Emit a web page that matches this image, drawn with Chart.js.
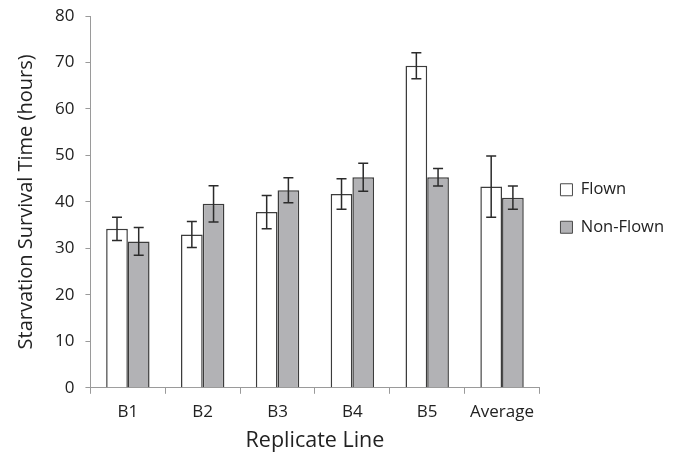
<!DOCTYPE html>
<html>
<head>
<meta charset="utf-8">
<script src="https://cdn.jsdelivr.net/npm/chart.js@4"></script>
<style>
  html, body { margin: 0; padding: 0; background: #fff; }
  #wrap { width: 678px; height: 454px; }
</style>
</head>
<body>
<div id="wrap"><canvas id="chart" width="678" height="454"></canvas></div>
<script>
/* ---- data ---- */
const lines = ["B1", "B2", "B3", "B4", "B5", "Average"];
const flown = [34.2, 33.0, 37.8, 41.7, 69.3, 43.3];
const flownErr = [2.5, 2.8, 3.6, 3.3, 2.8, 6.6];
const nonFlown = [31.5, 39.6, 42.5, 45.3, 45.3, 40.9];
const nonFlownErr = [3.0, 3.9, 2.7, 3.0, 1.9, 2.5];
const yTicks = [0, 10, 20, 30, 40, 50, 60, 70, 80];

const FONT = "'Open Sans', 'Noto Sans', sans-serif";
const AXIS_GREY = "#9a9a9a";
const TEXT = "#222";

/* error bars drawn on top of each bar, using the y scale */
const errorBars = {
    id: "errorBars",
    afterDatasetsDraw(chart) {
        const ctx = chart.ctx;
        const y = chart.scales.y;
        chart.data.datasets.forEach((ds, i) => {
            const meta = chart.getDatasetMeta(i);
            meta.data.forEach((bar, j) => {
                const v = ds.data[j], e = ds.errors[j];
                const top = y.getPixelForValue(v + e);
                const bot = y.getPixelForValue(v - e);
                const cap = 5;
                ctx.save();
                ctx.strokeStyle = "#2b2b2b";
                ctx.lineWidth = 1.5;
                ctx.beginPath();
                ctx.moveTo(bar.x, top); ctx.lineTo(bar.x, bot);
                ctx.moveTo(bar.x - cap, top); ctx.lineTo(bar.x + cap, top);
                ctx.moveTo(bar.x - cap, bot); ctx.lineTo(bar.x + cap, bot);
                ctx.stroke();
                ctx.restore();
            });
        });
    }
};

new Chart(document.getElementById("chart"), {
    type: "bar",
    data: {
        labels: lines,
        datasets: [
            {
                label: "Flown",
                data: flown,
                errors: flownErr,
                backgroundColor: "#ffffff",
                borderColor: "#3c3c3c",
                borderWidth: 1.5,
                borderSkipped: "bottom"
            },
            {
                label: "Non-Flown",
                data: nonFlown,
                errors: nonFlownErr,
                backgroundColor: "#b2b2b5",
                borderColor: "#3c3c3c",
                borderWidth: 1.5,
                borderSkipped: "bottom"
            }
        ]
    },
    options: {
        responsive: false,
        animation: false,
        categoryPercentage: 0.58,
        barPercentage: 1.0,
        layout: { padding: { top: 16, right: 4, left: 14, bottom: 0 } },
        plugins: {
            tooltip: { enabled: false },
            legend: {
                position: "right",
                fullSize: false,
                // empty title only nudges the items down a little
                title: {
                    display: true,
                    text: " ",
                    font: { size: 1 },
                    padding: { top: 12, bottom: 0 }
                },
                labels: {
                    font: { family: FONT, size: 16.5 },
                    color: TEXT,
                    boxWidth: 12,
                    boxHeight: 12,
                    padding: 21,
                    generateLabels(chart) {
                        return chart.data.datasets.map((ds, i) => ({
                            text: ds.label,
                            fillStyle: ds.backgroundColor,
                            strokeStyle: "#4a4a4a",
                            fontColor: TEXT,
                            lineWidth: 1,
                            datasetIndex: i
                        }));
                    }
                }
            }
        },
        scales: {
            x: {
                offset: true,
                grid: {
                    offset: true,
                    drawOnChartArea: false,
                    color: AXIS_GREY,
                    tickLength: 6
                },
                border: { color: AXIS_GREY, width: 1 },
                ticks: {
                    font: { family: FONT, size: 17 },
                    color: TEXT,
                    padding: 8
                },
                title: {
                    display: true,
                    text: "Replicate Line",
                    font: { family: FONT, size: 21.5 },
                    color: TEXT,
                    padding: { top: -2, bottom: 0 }
                }
            },
            y: {
                min: 0,
                max: 80,
                afterBuildTicks(scale) {
                    scale.ticks = yTicks.map(v => ({ value: v }));
                },
                afterFit(scale) {
                    // keep the top edge from the layout padding only
                    scale.paddingTop = 0;
                },
                grid: {
                    drawOnChartArea: false,
                    color: AXIS_GREY,
                    tickLength: 5
                },
                border: { color: AXIS_GREY, width: 1 },
                ticks: {
                    font: { family: FONT, size: 17 },
                    color: TEXT,
                    padding: 11
                },
                title: {
                    display: true,
                    text: "Starvation Survival Time (hours)",
                    font: { family: FONT, size: 20 },
                    color: TEXT,
                    padding: { top: 0, bottom: 6 }
                }
            }
        }
    },
    plugins: [errorBars]
});
</script>
</body>
</html>
